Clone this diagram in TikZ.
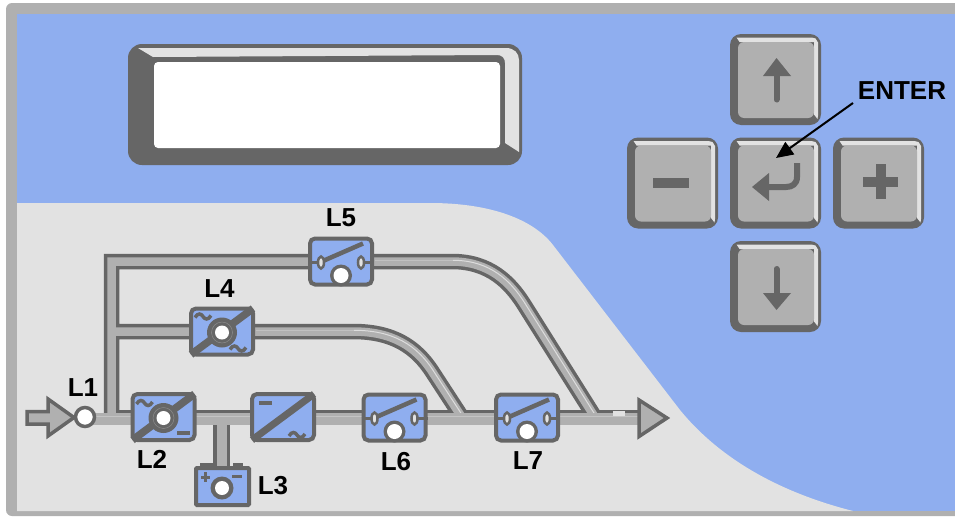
\documentclass[tikz,border=0pt]{standalone}
\usepackage{fontspec}
\setmainfont{Liberation Sans}
\usetikzlibrary{arrows.meta}
\definecolor{panelblue}{HTML}{8FAEEF}
\definecolor{darkedge}{HTML}{666666}
\definecolor{midgray}{HTML}{B0B0B0}
\definecolor{lightgray}{HTML}{E2E2E2}
\pgfdeclarelayer{panel}
\pgfdeclarelayer{tube}
\pgfsetlayers{panel,tube,main}
\tikzset{
  devicebox/.style={draw=darkedge,line width=4pt,fill=panelblue,rounded corners=5pt,minimum width=62pt,minimum height=46pt,inner sep=0pt},
  battbox/.style={draw=darkedge,line width=4pt,fill=panelblue,rounded corners=1pt,minimum width=53pt,minimum height=37pt,inner sep=0pt},
  keyface/.style={fill=midgray,rounded corners=6pt,minimum width=76pt,minimum height=76pt,inner sep=0pt},
  lab/.style={font=\bfseries\fontsize{26}{26}\selectfont,text=black,inner sep=0pt},
  sym/.style={draw=darkedge,line width=3pt},
  glyph/.style={fill=darkedge,draw=none},
  tubeouter/.style={draw=darkedge,line width=15.5pt,miter limit=10},
  tubeinner/.style={draw=midgray,line width=8.5pt,miter limit=10},
  tubefaint/.style={draw=lightgray!35!midgray,line width=1pt,transform canvas={xshift=0.5pt,yshift=0.8pt}},
  tubehigh/.style={draw=lightgray!90!midgray,line width=1pt,transform canvas={xshift=1pt,yshift=1.2pt}},
  tildeg/.pic={\draw[darkedge,line width=3.5pt] (-8,1) .. controls (-5,-4) and (-2,-3) .. (0,0) .. controls (2,3) and (5,4) .. (8,-1);}
}
\newcommand{\keycap}[3]{%
  \begin{scope}[shift={(#2,#3)}]
    \fill[darkedge,rounded corners=11pt] (-45.5,-45.5) rectangle (45.5,45.5);
    \fill[lightgray] (-39,-42) -- (36,-42) -- (40,-41) -- (42.5,-37) -- (42.5,36) -- (42,39.5) -- (38.5,35) -- (38.5,-37.5) -- (-36,-37.5) -- cycle;
    \node[keyface] (#1) at (0.5,0.5) {};
  \end{scope}}
\newcommand{\switchsym}[1]{%
  \begin{scope}[shift={(#1)}]
    \draw[sym] (-33,1) -- (-20,1) (20,1) -- (33,1);
    \draw[darkedge,line width=2.5pt,fill=lightgray] (-20,1) ellipse [x radius=3pt,y radius=6pt];
    \draw[darkedge,line width=2.5pt,fill=lightgray] (20,1) ellipse [x radius=3pt,y radius=6pt];
    \draw[darkedge,line width=4.5pt] (-17,-1) -- (22,-18);
    \fill[darkedge] (0,14) circle (11pt);
    \fill[white] (0,14) circle (7.5pt);
  \end{scope}}
\newcommand{\invertersym}[1]{%
  \begin{scope}[shift={(#1)}]
    \draw[darkedge,line width=7.5pt] (-31,23) -- (31,-23);
    \fill[darkedge] (0,1) circle (15pt);
    \draw[midgray!50!darkedge,line width=0.5pt] (0,1) circle (10.5pt);
    \fill[white] (0,1) circle (7pt);
  \end{scope}}
\begin{document}
\begin{tikzpicture}[x=1pt,y=-1pt,line join=miter]
\useasboundingbox (0,0) rectangle (955,517);

% ---- panel
\begin{pgfonlayer}{panel}
  \fill[white] (0,0) rectangle (955,517);
  \fill[midgray,rounded corners=6pt] (6,3) rectangle (975,516);
  \fill[panelblue] (17,14) rectangle (955,511);
  \fill[lightgray] (17,203) -- (430,203) .. controls (490,203) and (533,219) .. (553,245)
     -- (680,410) .. controls (725,465) and (790,495) .. (853,511) -- (17,511) -- cycle;
  % display
  \fill[darkedge,rounded corners=14pt] (128,44) rectangle (522,165);
  \fill[lightgray] (138,48) -- (506,48) .. controls (514,48) and (519,53) .. (519,60) -- (519,152) -- (505,143) -- (505,63)
     .. controls (505,58) and (502,55) .. (497,55) -- (153,57) -- cycle;
  \fill[white,rounded corners=4pt] (154,62) rectangle (500,148);
\end{pgfonlayer}

% ---- device boxes
\node[devicebox] (L5box) at (341,261.5) {};
\node[devicebox] (L4box) at (222,331.5) {};
\node[devicebox] (L2box) at (163.5,417) {};
\node[devicebox] (Rbox) at (283,417) {};
\node[devicebox] (L6box) at (394.5,417.5) {};
\node[devicebox] (L7box) at (527,417.5) {};
\node[battbox] (L3box) at (222.5,486.5) {};

\switchsym{L5box}
\switchsym{L6box}
\switchsym{L7box}
\invertersym{L4box}
\invertersym{L2box}
\path (L4box) ++(-19,-15) pic {tildeg};
\path (L4box) ++(16,17) pic {tildeg};
\path (L2box) ++(-19,-14) pic {tildeg};
\fill[darkedge] (176.5,431) rectangle (189.5,435);
\draw[darkedge,line width=7pt] (Rbox) ++(-31,23) -- ++(62,-46);
\fill[darkedge] (259,401) rectangle (272,405);
\path (Rbox) ++(14,18) pic {tildeg};

% battery
\fill[darkedge] (200,463) rectangle (213,467);
\fill[darkedge] (233,463) rectangle (243,467);
\fill[darkedge] (204,472) rectangle (207,482);
\fill[darkedge] (200.5,475.5) rectangle (210,478.5);
\fill[darkedge] (232,474.5) rectangle (242,478);
\fill[darkedge] (222,488) circle (11.5pt);
\fill[white] (222,488) circle (7pt);

% ---- input and output arrows, L1
\node[circle,draw=darkedge,line width=3.5pt,fill=white,minimum size=19pt,inner sep=0pt] (L1dot) at (85,417) {};
\draw[darkedge,line width=3.5pt,fill=midgray] (27,411.5) -- (48,411.5) -- (48,399) -- (74,417.5) -- (48,436) -- (48,424) -- (27,424) -- cycle;
\draw[darkedge,line width=3.5pt,fill=midgray] (639,400) -- (667,418) -- (639,436.5) -- cycle;
\coordinate (outArrow) at (641,418);

% ---- tubes
\coordinate (busLevel) at (0,419);
\coordinate (busTop) at (0,411.5);
\coordinate (jA) at (111.5,419);
\coordinate (jB) at (111.5,331.5);
\coordinate (cTL) at (111.5,261.5);
\coordinate (a1) at (452,261.5);
\coordinate (a2) at (523,303);
\coordinate (a3) at (596,419);
\coordinate (b1) at (353,331.5);
\coordinate (b2) at (433,373);
\coordinate (b3) at (463,419);
\begin{pgfonlayer}{tube}
  \draw[darkedge,line width=3.5pt] (119,411.5) -- (outArrow |- busTop);
  \def\branches{(jA) -- (cTL) -- (L5box) -- (a1) .. controls (490,261.5) and (510,283) .. (a2) -- (a3)
     (jB) -- (L4box) -- (b1) .. controls (392,331.5) and (416,346) .. (b2) -- (b3)}
  \draw[tubeouter] \branches;
  \draw[tubeinner] \branches;
  \draw[tubefaint] (L5box) -- (a1) (L4box) -- (b1);
  \draw[tubehigh] (a1) .. controls (490,261.5) and (510,283) .. (a2) -- (a3)
     (b1) .. controls (392,331.5) and (416,346) .. (b2) -- (b3);
  \draw[darkedge,line width=17pt] (L3box.north -| 221.5,0) -- (221.5,419);
  \draw[midgray,line width=12pt] (L1dot |- busLevel) -- (L2box |- busLevel) -- (Rbox |- busLevel) -- (L6box |- busLevel) -- (L7box |- busLevel) -- (outArrow |- busLevel);
  \draw[lightgray!40!midgray,line width=1pt] (L1dot |- 0,416.5) -- (outArrow |- 0,416.5);
  \draw[midgray,line width=10pt] (221.5,467) -- (221.5,419);
  \fill[lightgray] (613,411) rectangle (625,415.5);
\end{pgfonlayer}

% ---- keys
\keycap{kUp}{775.5}{79.5}
\keycap{kEnter}{775.5}{183}
\keycap{kDown}{775.5}{286.5}
\keycap{kMinus}{672.5}{183}
\keycap{kPlus}{878.5}{183}
% up
\fill[glyph] (776.5,58) -- (791,76) -- (763,76) -- cycle;
\draw[darkedge,line width=6pt,line cap=round] (776.5,74) -- (776.5,99.5);
% down
\fill[glyph] (776.5,310) -- (791,293) -- (763,293) -- cycle;
\draw[darkedge,line width=6pt,line cap=round] (776.5,295) -- (776.5,269);
% minus, plus
\fill[glyph] (653,178) rectangle (689,188);
\fill[glyph] (863,176.5) rectangle (898,187);
\fill[glyph] (875.5,164) rectangle (886,198.5);
% enter
\fill[glyph] (752,187) -- (769,173) -- (769,201) -- cycle;
\draw[darkedge,line width=6pt] (765,187) -- (786,187) .. controls (792,187) and (797,184) .. (797,177) -- (797,163);

% ---- labels
\node[lab] (tL1) at (83,388) {L1};
\node[lab] (tL2) at (152,459) {L2};
\node[lab] (tL3) at (273,486) {L3};
\node[lab] (tL4) at (219.5,288.5) {L4};
\node[lab] (tL5) at (341,218) {L5};
\node[lab] (tL6) at (396,461.5) {L6};
\node[lab] (tL7) at (528,460.5) {L7};
\node[lab] (tEnter) at (902,91) {ENTER};
\coordinate (enterTip) at (776,158);
\draw[black,line width=2pt,-{Triangle[length=17pt,width=15pt]}] (853,103) -- (enterTip);
\end{tikzpicture}
\end{document}
